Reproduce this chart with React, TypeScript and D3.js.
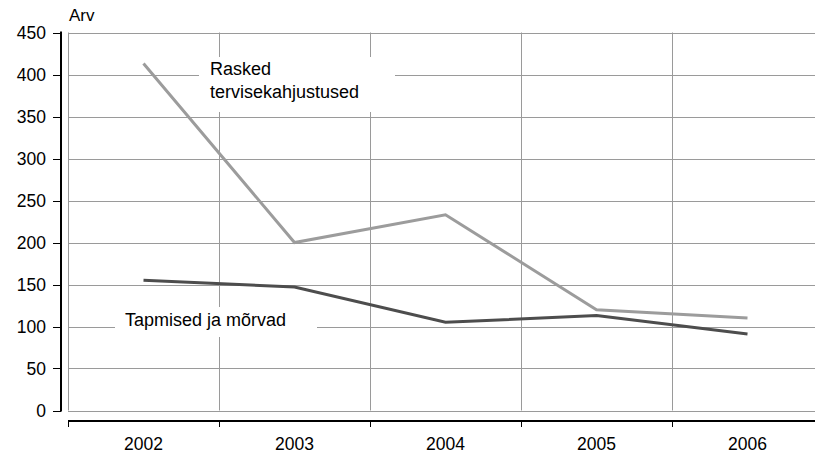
import { useEffect, useRef } from "react";
import * as d3 from "d3";

const years = ["2002", "2003", "2004", "2005", "2006"];
const rasked = [413, 200, 233, 120, 110];
const tapmised = [155, 147, 105, 113, 91];
const yTicks = [0, 50, 100, 150, 200, 250, 300, 350, 400, 450];

const App: React.FC = () => {
  const ref = useRef<HTMLDivElement>(null);

  useEffect(() => {
    const width = 815;
    const height = 456;
    const font = "'Liberation Sans', Arial, sans-serif";

    const svg = d3
      .select(ref.current)
      .selectAll("svg")
      .data([null])
      .join("svg")
      .attr("width", width)
      .attr("height", height)
      .style("display", "block");
    svg.selectAll("*").remove();

    svg.append("rect").attr("width", width).attr("height", height).attr("fill", "#fff");

    // scales
    const x = d3.scaleBand<string>().domain(years).range([68, 823]).padding(0);
    const y = d3.scaleLinear().domain([0, 450]).range([410.5, 32.5]);
    const cx = (d: string) => (x(d) as number) + x.bandwidth() / 2;

    // gridlines
    const grid = svg.append("g").attr("stroke", "#9a9a9a").attr("stroke-width", 1);
    grid
      .selectAll("line.h")
      .data(yTicks)
      .join("line")
      .attr("x1", 68)
      .attr("x2", 823)
      .attr("y1", (d) => Math.round(y(d)) + 0.5)
      .attr("y2", (d) => Math.round(y(d)) + 0.5);
    grid
      .selectAll("line.v")
      .data(years)
      .join("line")
      .attr("x1", (d) => Math.round(x(d) as number) + 0.5)
      .attr("x2", (d) => Math.round(x(d) as number) + 0.5)
      .attr("y1", y(450))
      .attr("y2", y(0));

    // y axis
    const yAxis = svg.append("g");
    yAxis
      .append("line")
      .attr("x1", 61)
      .attr("x2", 61)
      .attr("y1", y(450) - 1)
      .attr("y2", y(0) + 1)
      .attr("stroke", "#000")
      .attr("stroke-width", 2);
    yAxis
      .selectAll("line.t")
      .data(yTicks)
      .join("line")
      .attr("x1", 53)
      .attr("x2", 61)
      .attr("y1", (d) => Math.round(y(d)) + 0.5)
      .attr("y2", (d) => Math.round(y(d)) + 0.5)
      .attr("stroke", "#000")
      .attr("stroke-width", 1);
    yAxis
      .selectAll("text")
      .data(yTicks)
      .join("text")
      .attr("x", 46)
      .attr("y", (d) => y(d) + 6)
      .attr("text-anchor", "end")
      .attr("font-family", font)
      .attr("font-size", 17.5)
      .attr("fill", "#000")
      .text((d) => d);

    svg
      .append("text")
      .attr("x", 69)
      .attr("y", 21)
      .attr("font-family", font)
      .attr("font-size", 17)
      .text("Arv");

    // x axis
    const xAxis = svg.append("g");
    xAxis
      .append("line")
      .attr("x1", 68)
      .attr("x2", 823)
      .attr("y1", 421)
      .attr("y2", 421)
      .attr("stroke", "#000")
      .attr("stroke-width", 2);
    xAxis
      .selectAll("line.t")
      .data([...years.map((d) => x(d) as number), 823])
      .join("line")
      .attr("x1", (d) => Math.round(d) + 0.5)
      .attr("x2", (d) => Math.round(d) + 0.5)
      .attr("y1", 421)
      .attr("y2", 427)
      .attr("stroke", "#000")
      .attr("stroke-width", 1);
    xAxis
      .selectAll("text")
      .data(years)
      .join("text")
      .attr("x", cx)
      .attr("y", 450)
      .attr("text-anchor", "middle")
      .attr("font-family", font)
      .attr("font-size", 17.5)
      .text((d) => d);

    // label boxes (white background hiding gridlines)
    svg
      .append("rect")
      .attr("x", 199)
      .attr("y", 57)
      .attr("width", 196)
      .attr("height", 55)
      .attr("fill", "#fff");
    svg
      .append("rect")
      .attr("x", 115)
      .attr("y", 307)
      .attr("width", 202)
      .attr("height", 30)
      .attr("fill", "#fff");

    // lines
    const line = d3
      .line<number>()
      .x((_, i) => cx(years[i]))
      .y((d) => y(d));

    svg
      .append("path")
      .datum(rasked)
      .attr("fill", "none")
      .attr("stroke", "#9c9c9c")
      .attr("stroke-width", 3)
      .attr("d", line);

    svg
      .append("path")
      .datum(tapmised)
      .attr("fill", "none")
      .attr("stroke", "#4d4d4d")
      .attr("stroke-width", 3)
      .attr("d", line);

    // labels
    const lab = svg
      .append("text")
      .attr("font-family", font)
      .attr("font-size", 18)
      .attr("fill", "#000");
    lab.append("tspan").attr("x", 210).attr("y", 75).text("Rasked");
    lab.append("tspan").attr("x", 210).attr("y", 98).text("tervisekahjustused");

    svg
      .append("text")
      .attr("x", 125)
      .attr("y", 326)
      .attr("font-family", font)
      .attr("font-size", 18)
      .attr("fill", "#000")
      .text("Tapmised ja mõrvad");
  }, []);

  return <div ref={ref} style={{ position: "absolute", left: 0, top: 0 }} />;
};

export default App;
